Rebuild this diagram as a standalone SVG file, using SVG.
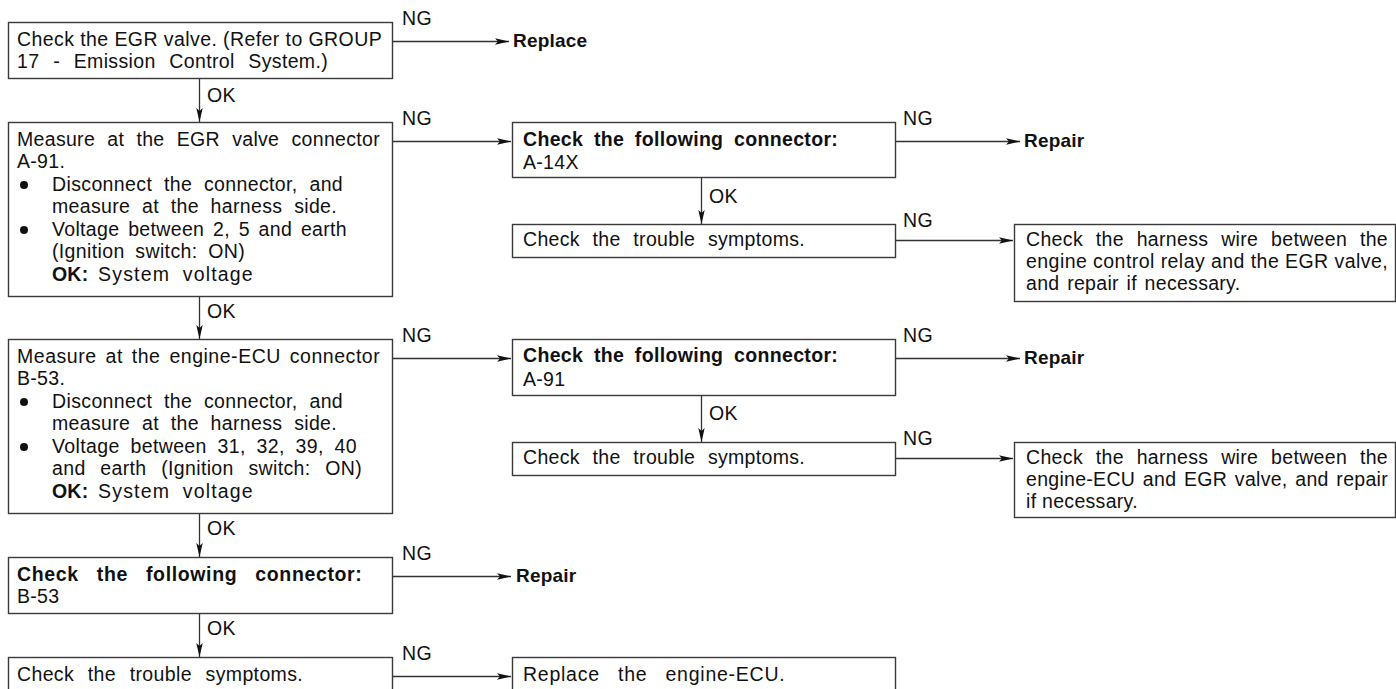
<svg xmlns="http://www.w3.org/2000/svg" width="1396" height="689" viewBox="0 0 1396 689">
<defs>
<style>
.t{font-family:"Liberation Sans",Arial,sans-serif;font-size:19.5px;fill:#111;letter-spacing:0.3px}
.b{font-weight:bold;letter-spacing:0.2px}
.lb{font-size:19px}
.box{fill:#fff;stroke:#3a3a3a;stroke-width:1.4}
.ln{stroke:#333;stroke-width:1.3;fill:none}
.dot{fill:#111}
</style>
<marker id="ah" markerUnits="userSpaceOnUse" markerWidth="16" markerHeight="10" refX="14" refY="5" orient="auto">
<path d="M0,1.8 L14,5 L0,8.2 L3,5 Z" fill="#111"/>
</marker>
</defs>
<rect width="1396" height="689" fill="#fff"/>

<g id="connectors">
<line class="ln" x1="392" y1="41.5" x2="509" y2="41.5" marker-end="url(#ah)"/>
<line class="ln" x1="392" y1="141.5" x2="511" y2="141.5" marker-end="url(#ah)"/>
<line class="ln" x1="895" y1="141.5" x2="1020" y2="141.5" marker-end="url(#ah)"/>
<line class="ln" x1="895" y1="240.5" x2="1013" y2="240.5" marker-end="url(#ah)"/>
<line class="ln" x1="392" y1="358.5" x2="511" y2="358.5" marker-end="url(#ah)"/>
<line class="ln" x1="895" y1="358.5" x2="1020" y2="358.5" marker-end="url(#ah)"/>
<line class="ln" x1="895" y1="458.5" x2="1013" y2="458.5" marker-end="url(#ah)"/>
<line class="ln" x1="392" y1="576.5" x2="511" y2="576.5" marker-end="url(#ah)"/>
<line class="ln" x1="392" y1="676.5" x2="511" y2="676.5" marker-end="url(#ah)"/>
<line class="ln" x1="199.5" y1="78" x2="199.5" y2="122" marker-end="url(#ah)"/>
<line class="ln" x1="199.5" y1="296" x2="199.5" y2="339" marker-end="url(#ah)"/>
<line class="ln" x1="199.5" y1="513" x2="199.5" y2="557" marker-end="url(#ah)"/>
<line class="ln" x1="199.5" y1="613" x2="199.5" y2="657" marker-end="url(#ah)"/>
<line class="ln" x1="701.5" y1="177" x2="701.5" y2="224" marker-end="url(#ah)"/>
<line class="ln" x1="701.5" y1="395" x2="701.5" y2="442" marker-end="url(#ah)"/>
<text class="t" x="402" y="25">NG</text>
<text class="t" x="402" y="125">NG</text>
<text class="t" x="402" y="342">NG</text>
<text class="t" x="402" y="560">NG</text>
<text class="t" x="402" y="660">NG</text>
<text class="t" x="903" y="125">NG</text>
<text class="t" x="903" y="227">NG</text>
<text class="t" x="903" y="342">NG</text>
<text class="t" x="903" y="445">NG</text>
<text class="t" x="207" y="102">OK</text>
<text class="t" x="207" y="318">OK</text>
<text class="t" x="207" y="535">OK</text>
<text class="t" x="207" y="635">OK</text>
<text class="t" x="709" y="203">OK</text>
<text class="t" x="709" y="420">OK</text>
</g>

<g id="n1">
<rect class="box" x="8.5" y="22.5" width="384" height="56"/>
<text class="t" x="17" y="46" textLength="365" lengthAdjust="spacing">Check the EGR valve. (Refer to GROUP</text>
<text class="t" x="17" y="68" textLength="311" lengthAdjust="spacing" word-spacing="8">17 - Emission Control System.)</text>
</g>

<g id="n2">
<rect class="box" x="8.5" y="122.5" width="384" height="174"/>
<text class="t" x="17" y="146" textLength="363" lengthAdjust="spacing" word-spacing="6.5">Measure at the EGR valve connector</text>
<text class="t" x="17" y="168">A-91.</text>
<circle class="dot" cx="24" cy="185" r="4"/>
<text class="t" x="52" y="191" textLength="291" lengthAdjust="spacing" word-spacing="6">Disconnect the connector, and</text>
<text class="t" x="52" y="213" textLength="285" lengthAdjust="spacing" word-spacing="6">measure at the harness side.</text>
<circle class="dot" cx="24" cy="230" r="4"/>
<text class="t" x="52" y="236" textLength="295" lengthAdjust="spacing" word-spacing="3">Voltage between 2, 5 and earth</text>
<text class="t" x="52" y="258" textLength="193" lengthAdjust="spacing" word-spacing="5">(Ignition switch: ON)</text>
<text class="t" x="52" y="281"><tspan class="b">OK:</tspan><tspan x="98" textLength="155" lengthAdjust="spacing" word-spacing="6">System voltage</tspan></text>
</g>

<g id="n3">
<rect class="box" x="8.5" y="339.5" width="384" height="174"/>
<text class="t" x="17" y="363" textLength="363" lengthAdjust="spacing" word-spacing="3">Measure at the engine-ECU connector</text>
<text class="t" x="17" y="385">B-53.</text>
<circle class="dot" cx="24" cy="402" r="4"/>
<text class="t" x="52" y="408" textLength="291" lengthAdjust="spacing" word-spacing="6">Disconnect the connector, and</text>
<text class="t" x="52" y="430" textLength="285" lengthAdjust="spacing" word-spacing="6">measure at the harness side.</text>
<circle class="dot" cx="24" cy="447" r="4"/>
<text class="t" x="52" y="453" textLength="305" lengthAdjust="spacing" word-spacing="5">Voltage between 31, 32, 39, 40</text>
<text class="t" x="52" y="475" textLength="310" lengthAdjust="spacing" word-spacing="9">and earth (Ignition switch: ON)</text>
<text class="t" x="52" y="498"><tspan class="b">OK:</tspan><tspan x="98" textLength="155" lengthAdjust="spacing" word-spacing="6">System voltage</tspan></text>
</g>

<g id="n4">
<rect class="box" x="8.5" y="557.5" width="384" height="56"/>
<text class="t b" x="17" y="581" textLength="345" lengthAdjust="spacing" word-spacing="12">Check the following connector:</text>
<text class="t" x="17" y="603">B-53</text>
</g>

<g id="n5">
<rect class="box" x="8.5" y="657.5" width="384" height="60"/>
<text class="t" x="17" y="681" textLength="286" lengthAdjust="spacing" word-spacing="8">Check the trouble symptoms.</text>
</g>

<g id="m1">
<rect class="box" x="512.5" y="122.5" width="383" height="55"/>
<text class="t b" x="523" y="146" textLength="315" lengthAdjust="spacing" word-spacing="5">Check the following connector:</text>
<text class="t" x="523" y="169">A-14X</text>
</g>

<g id="m2">
<rect class="box" x="512.5" y="224.5" width="383" height="33"/>
<text class="t" x="523" y="246" textLength="282" lengthAdjust="spacing" word-spacing="7">Check the trouble symptoms.</text>
</g>

<g id="m3">
<rect class="box" x="512.5" y="339.5" width="383" height="56"/>
<text class="t b" x="523" y="362" textLength="315" lengthAdjust="spacing" word-spacing="5">Check the following connector:</text>
<text class="t" x="523" y="386">A-91</text>
</g>

<g id="m4">
<rect class="box" x="512.5" y="442.5" width="383" height="33"/>
<text class="t" x="523" y="464" textLength="282" lengthAdjust="spacing" word-spacing="7">Check the trouble symptoms.</text>
</g>

<g id="m5">
<rect class="box" x="512.5" y="657.5" width="383" height="60"/>
<text class="t" x="523" y="681" textLength="262" lengthAdjust="spacing" word-spacing="12">Replace the engine-ECU.</text>
</g>

<g id="r1">
<rect class="box" x="1014.5" y="224.5" width="381" height="77"/>
<text class="t" x="1026" y="246" textLength="362" lengthAdjust="spacing" word-spacing="7">Check the harness wire between the</text>
<text class="t" x="1026" y="268" textLength="362" lengthAdjust="spacing">engine control relay and the EGR valve,</text>
<text class="t" x="1026" y="290" word-spacing="2">and repair if necessary.</text>
</g>

<g id="r2">
<rect class="box" x="1014.5" y="442.5" width="381" height="75"/>
<text class="t" x="1026" y="464" textLength="362" lengthAdjust="spacing" word-spacing="7">Check the harness wire between the</text>
<text class="t" x="1026" y="486" textLength="362" lengthAdjust="spacing" word-spacing="2">engine-ECU and EGR valve, and repair</text>
<text class="t" x="1026" y="508">if necessary.</text>
</g>

<g id="t1"><text class="t b lb" x="513" y="47">Replace</text></g>
<g id="t2"><text class="t b lb" x="1024" y="147">Repair</text></g>
<g id="t3"><text class="t b lb" x="1024" y="364">Repair</text></g>
<g id="t4"><text class="t b lb" x="516" y="582">Repair</text></g>
</svg>
